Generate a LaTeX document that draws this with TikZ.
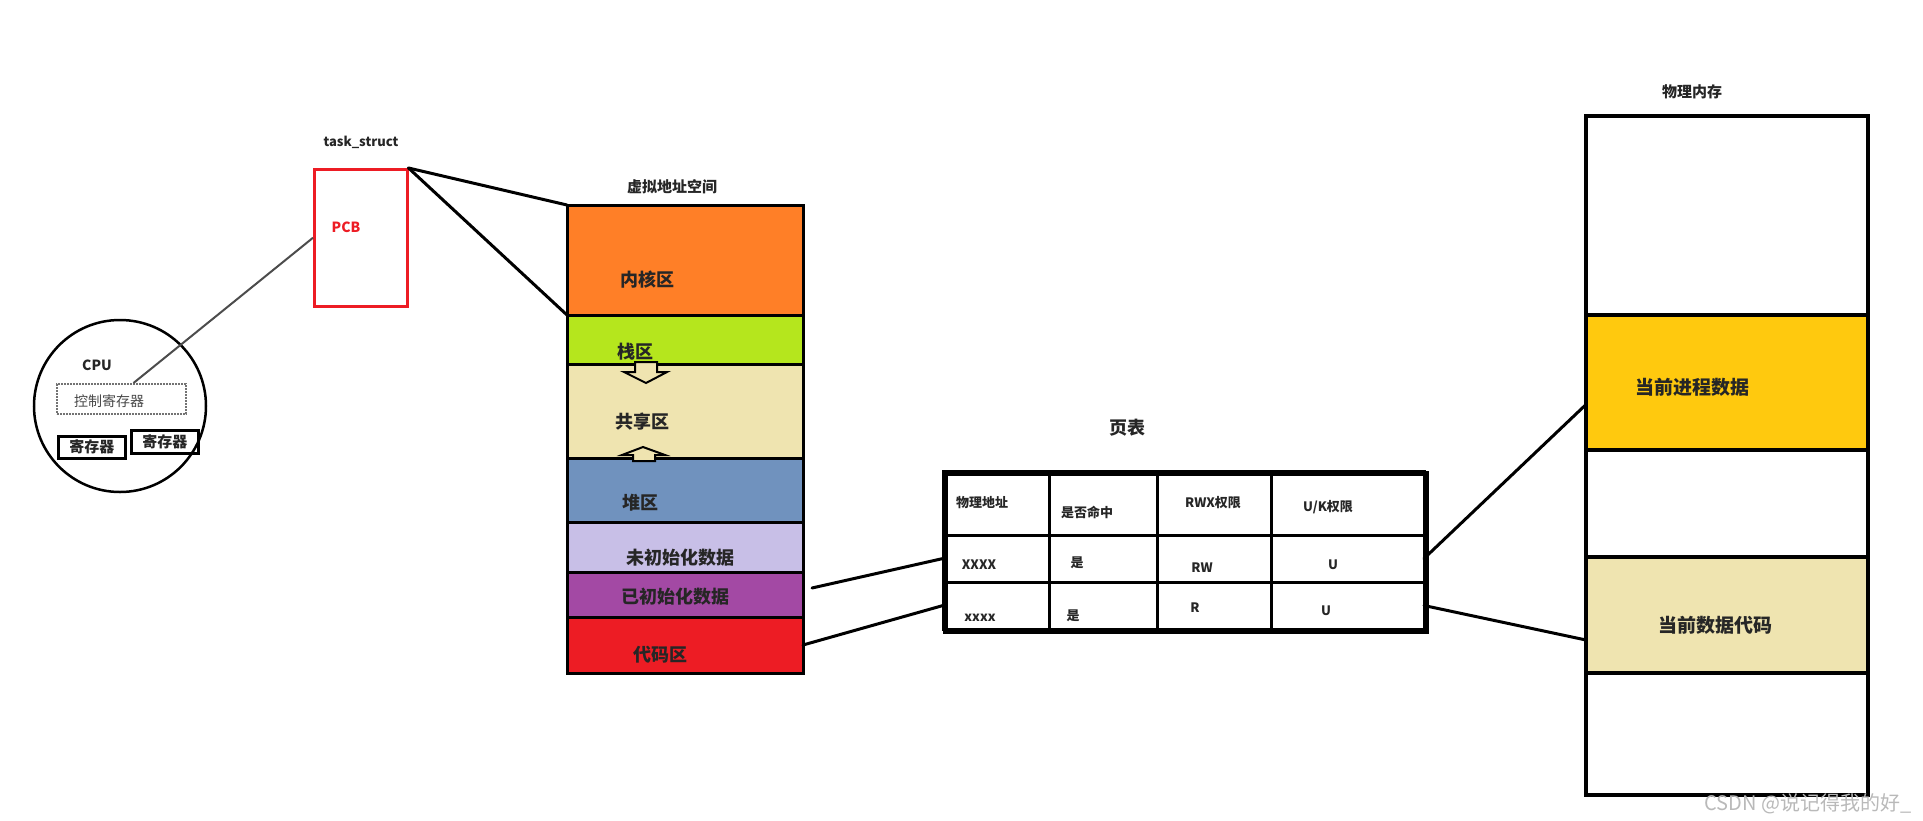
\documentclass[tikz,border=0pt]{standalone}
\usepackage{fontspec}
\setmainfont{Noto Sans CJK SC}
\usepackage{tikz}

\definecolor{korange}{HTML}{FF7F27}
\definecolor{kgreen}{HTML}{B5E61D}
\definecolor{kbeige}{HTML}{EFE4B0}
\definecolor{kblue}{HTML}{7092BE}
\definecolor{klav}{HTML}{C8BFE7}
\definecolor{kpurple}{HTML}{A349A4}
\definecolor{kred}{HTML}{ED1C24}
\definecolor{kyellow}{HTML}{FFC90E}
\definecolor{ktext}{HTML}{262626}

\begin{document}
\begin{tikzpicture}[x=1pt,y=-1pt]
\tikzstyle{seg}=[draw,line width=3pt,anchor=north west,inner sep=0pt,outer sep=0pt,minimum width=236]
\tikzstyle{pmseg}=[draw,line width=3.5pt,anchor=north west,inner sep=0pt,outer sep=0pt,minimum width=282]
\tikzstyle{cellrow}=[draw,line width=3pt,anchor=north west,inner sep=0pt,outer sep=0pt,minimum width=481]
\tikzstyle{big}=[text=ktext,font=\bfseries\fontsize{18}{20}\selectfont]
\tikzstyle{mid}=[text=ktext,font=\bfseries\fontsize{15}{17}\selectfont]
\tikzstyle{small}=[text=ktext,font=\bfseries\fontsize{13}{15}\selectfont]
\tikzstyle{link}=[line width=3pt,line cap=round]
\useasboundingbox (0,0) rectangle (1923,820);
\node[draw=kred,line width=2.5pt,anchor=north west,inner sep=0pt,minimum width=93,minimum height=137] (pcb) at (313,168) {};
\node[text=kred,font=\bfseries\fontsize{14}{16}\selectfont] (pcbtxt) at (346,227) {PCB};
\node[small] (task) at (361,142) {task\_struct};
\node[draw,circle,line width=2.5pt,minimum size=172,inner sep=0pt] (cpu) at (120,406) {};
\node[text=ktext,font=\bfseries\fontsize{14}{16}\selectfont] (cputxt) at (97,365) {CPU};
\node[draw=black!55,densely dotted,line width=2pt,anchor=north west,minimum width=129,minimum height=30,inner sep=0pt] (ctrl) at (56,383) {};
\node[text=ktext!85,font=\fontsize{14}{15}\selectfont] (ctrltxt) at (109,401) {控制寄存器};
\node[draw,line width=2.5pt,anchor=north west,minimum width=67,minimum height=22,inner sep=0pt,text=ktext,font=\bfseries\fontsize{15}{16}\selectfont] (reg1) at (57,435) {寄存器};
\node[draw,line width=2.5pt,anchor=north west,minimum width=67,minimum height=23,inner sep=0pt,text=ktext,font=\bfseries\fontsize{15}{16}\selectfont] (reg2) at (130,429) {寄存器};
\node[mid] (vatitle) at (672,187) {虚拟地址空间};
\node[seg,fill=korange,minimum height=110] (kernel) at (567,205) {};
\node[seg,fill=kgreen,minimum height=49] (stack) at (567,315) {};
\node[seg,fill=kbeige,minimum height=94] (share) at (567,364) {};
\node[seg,fill=kblue,minimum height=64] (heap) at (567,458) {};
\node[seg,fill=klav,minimum height=50] (bss) at (567,522) {};
\node[seg,fill=kpurple,minimum height=45] (data) at (567,572) {};
\node[seg,fill=kred,minimum height=56] (code) at (567,617) {};
\draw[line width=2pt,fill=kbeige] (635,362) -- (657,362) -- (657,372) -- (667,372) -- (646,383) -- (624,372) -- (635,372) -- cycle;
\draw[line width=2pt,fill=kbeige] (633,461) -- (655,461) -- (655,455) -- (665,455) -- (643,447) -- (622,455) -- (633,455) -- cycle;
\node[big] (kerneltxt) at (647,280) {内核区};
\node[big] (stacktxt) at (635,352) {栈区};
\node[big] (sharetxt) at (642,422) {共享区};
\node[big] (heaptxt) at (640,503) {堆区};
\node[big] (bsstxt) at (680,558) {未初始化数据};
\node[big] (datatxt) at (675,597) {已初始化数据};
\node[big] (codetxt) at (660,655) {代码区};
\node[big] (pttitle) at (1127,428) {页表};
\node[cellrow,minimum height=64] (hdr) at (943,471) {};
\node[cellrow,minimum height=47] (row1) at (943,535) {};
\node[cellrow,minimum height=47] (row2) at (943,582) {};
\draw[line width=3pt] (1049,471) -- (1049,629);
\draw[line width=3pt] (1157,471) -- (1157,629);
\draw[line width=3pt] (1271,471) -- (1271,629);
\node[draw,line width=4.5pt,anchor=north west,inner sep=0pt,minimum width=481,minimum height=158] (tbl) at (943,471) {};
\node[small] (h1) at (982,503) {物理地址};
\node[small] (h2) at (1087,512) {是否命中};
\node[small] (h3) at (1213,503) {RWX权限};
\node[small] (h4) at (1328,507) {U/K权限};
\node[small] (a1) at (979,565) {XXXX};
\node[small] (a2) at (1077,563) {是};
\node[small] (a3) at (1202,568) {RW};
\node[small] (a4) at (1333,565) {U};
\node[small] (b1) at (980,618) {xxxx};
\node[small] (b2) at (1073,616) {是};
\node[small] (b3) at (1195,608) {R};
\node[small] (b4) at (1326,611) {U};
\node[mid] (pmtitle) at (1692,92) {物理内存};
\node[pmseg,minimum height=679] (pm) at (1586,116) {};
\node[pmseg,line width=4.5pt,fill=kyellow,minimum height=135] (curproc) at (1586,315) {};
\node[pmseg,line width=4.5pt,fill=kbeige,minimum height=116] (curcode) at (1586,557) {};
\node[text=ktext,font=\bfseries\fontsize{19}{21}\selectfont] (proctxt) at (1692,387) {当前进程数据};
\node[text=ktext,font=\bfseries\fontsize{19}{21}\selectfont] (codetxt2) at (1715,625) {当前数据代码};
\node[text=gray!55,font=\fontsize{20}{22}\selectfont] (mark) at (1808,804) {CSDN @说记得我的好\_};
\coordinate (gap) at (812,588);
\draw[line width=2pt,draw=black!70] ([xshift=12pt]ctrl.north) -- (pcb.west);
\draw[link] (pcb.north east) -- (kernel.north west);
\draw[link] (pcb.north east) -- (kernel.south west);
\draw[link] (gap) -- (row1.west);
\draw[link] (code.east) -- (row2.west);
\draw[link] (row1.east) -- ([yshift=-22pt]curproc.west);
\draw[link] (row2.east) -- ([yshift=-25pt]curcode.west);
\end{tikzpicture}
\end{document}
